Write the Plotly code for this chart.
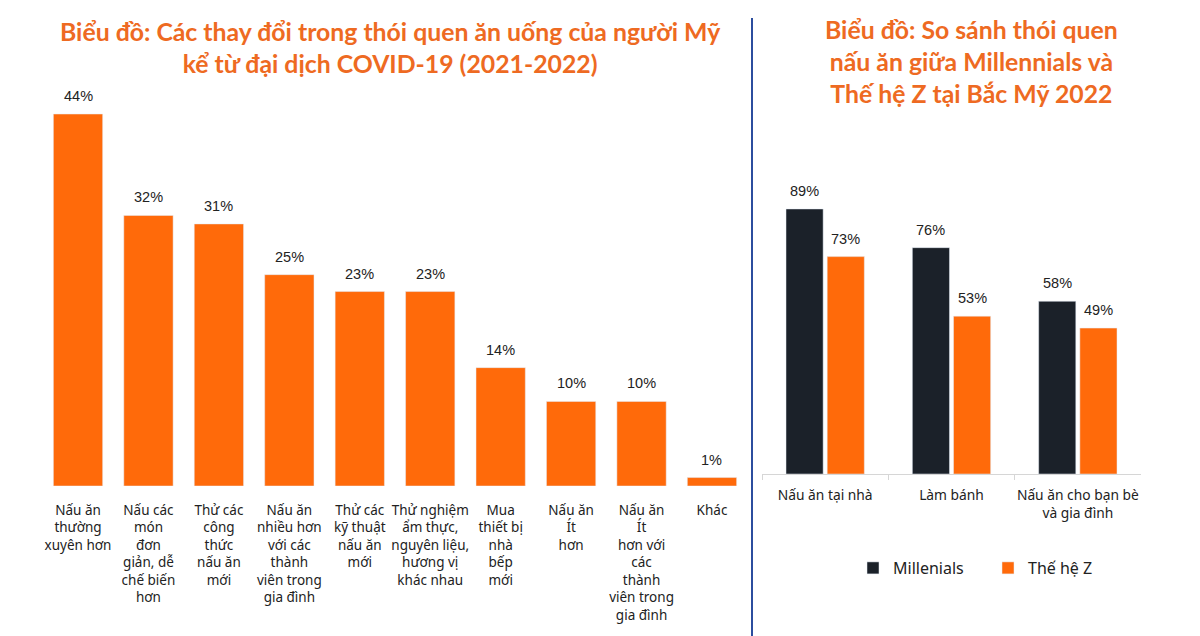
import plotly.graph_objects as go

# ---------------- data ----------------
left_categories = [
    "Nấu ăn<br>thường<br>xuyên hơn",
    "Nấu các<br>món<br>đơn<br>giản, dễ<br>chế biến<br>hơn",
    "Thử các<br>công<br>thức<br>nấu ăn<br>mới",
    "Nấu ăn<br>nhiều hơn<br>với các<br>thành<br>viên trong<br>gia đình",
    "Thử các<br>kỹ thuật<br>nấu ăn<br>mới",
    "Thử nghiệm<br>ẩm thực,<br>nguyên liệu,<br>hương vị<br>khác nhau",
    "Mua<br>thiết bị<br>nhà<br>bếp<br>mới",
    "Nấu ăn<br>Ít<br>hơn",
    "Nấu ăn<br>Ít<br>hơn với<br>các<br>thành<br>viên trong<br>gia đình",
    "Khác",
]
left_values = [44, 32, 31, 25, 23, 23, 14, 10, 10, 1]

right_categories = ["Nấu ăn tại nhà", "Làm bánh", "Nấu ăn cho bạn bè<br>và gia đình"]
millenials_values = [89, 76, 58]
genz_values = [73, 53, 49]
series_names = ["Millenials", "Thế hệ Z"]

left_title = "Biểu đồ: Các thay đổi trong thói quen ăn uống của người Mỹ<br>kể từ đại dịch COVID-19 (2021-2022)"
right_title = "Biểu đồ: So sánh thói quen<br>nấu ăn giữa Millennials và<br>Thế hệ Z tại Bắc Mỹ 2022"

# ---------------- styles ----------------
ORANGE = "#FF6A0A"
DARK = "#1B2129"
TITLE_ORANGE = "#EE6A22"
TEXT = "#222222"
W, H = 1200, 636
BAR_W_LEFT = 0.7
BAR_W_RIGHT = 0.294
OFF_M, OFF_Z = -0.31, 0.016

def py(px):
    return 1 - px / H

def px_(x):
    return x / W

fig = go.Figure()

fig.add_trace(go.Bar(
    x=left_categories, y=left_values, marker_color=ORANGE, width=BAR_W_LEFT,
    xaxis="x", yaxis="y", showlegend=False, hoverinfo="skip",
))
fig.add_trace(go.Bar(
    x=right_categories, y=millenials_values, marker_color=DARK, name=series_names[0],
    xaxis="x2", yaxis="y2", width=BAR_W_RIGHT, offset=OFF_M,
))
fig.add_trace(go.Bar(
    x=right_categories, y=genz_values, marker_color=ORANGE, name=series_names[1],
    xaxis="x2", yaxis="y2", width=BAR_W_RIGHT, offset=OFF_Z,
))

label_font = dict(family="Liberation Sans, Arial", size=14.5, color=TEXT)
annotations = []
for c, v in zip(left_categories, left_values):
    annotations.append(dict(x=c, y=v, xref="x", yref="y", text=f"{v}%", showarrow=False,
                            yanchor="bottom", yshift=8, font=label_font))
for vals, off in ((millenials_values, OFF_M), (genz_values, OFF_Z)):
    for i, v in enumerate(vals):
        annotations.append(dict(x=i + off + BAR_W_RIGHT / 2, y=v, xref="x2", yref="y2",
                                text=f"{v}%", showarrow=False,
                                yanchor="bottom", yshift=8, font=label_font))

annotations.append(dict(x=px_(391), y=py(47), xref="paper", yref="paper", text=left_title,
                        showarrow=False, xanchor="center", yanchor="middle", align="center",
                        font=dict(family="Lato", size=24.8, color=TITLE_ORANGE, weight="bold")))
annotations.append(dict(x=px_(971), y=py(62), xref="paper", yref="paper", text=right_title,
                        showarrow=False, xanchor="center", yanchor="middle", align="center",
                        font=dict(family="Lato", size=24.8, color=TITLE_ORANGE, weight="bold")))

fig.update_layout(
    width=W, height=H,
    margin=dict(l=0, r=0, t=0, b=0, autoexpand=False),
    paper_bgcolor="white", plot_bgcolor="white",
    barmode="overlay",
    xaxis=dict(domain=[px_(42.8), px_(747.2)], showline=False, ticks="", showgrid=False,
               ticklabelstandoff=14, tickangle=0, automargin=False,
               tickfont=dict(family="Noto Sans", size=13.5, color=TEXT), fixedrange=True),
    yaxis=dict(domain=[py(486), py(63.3)], range=[0, 50], visible=False, fixedrange=True),
    xaxis2=dict(domain=[px_(762), px_(1141)], showline=True, linecolor="#d6d6d6", linewidth=1,
                ticks="outside", tickson="boundaries", ticklen=5, tickcolor="#d6d6d6",
                showgrid=False, anchor="y2", ticklabelstandoff=8, tickangle=0,
                automargin=False,
                tickfont=dict(family="Noto Sans", size=13.8, color=TEXT), fixedrange=True),
    yaxis2=dict(domain=[py(474), py(176.2)], range=[0, 100], visible=False, anchor="x2",
                fixedrange=True),
    annotations=annotations,
    legend=dict(orientation="h", x=px_(988), xanchor="center", y=py(568), yanchor="middle",
                font=dict(family="Noto Sans", size=16, color=TEXT), traceorder="normal",
                itemwidth=30, entrywidth=90),
    shapes=[dict(type="line", xref="paper", yref="paper", x0=px_(752), x1=px_(752),
                 y0=py(18), y1=0, line=dict(color="#2C4E9E", width=2))],
)

fig.write_html("out.html")
